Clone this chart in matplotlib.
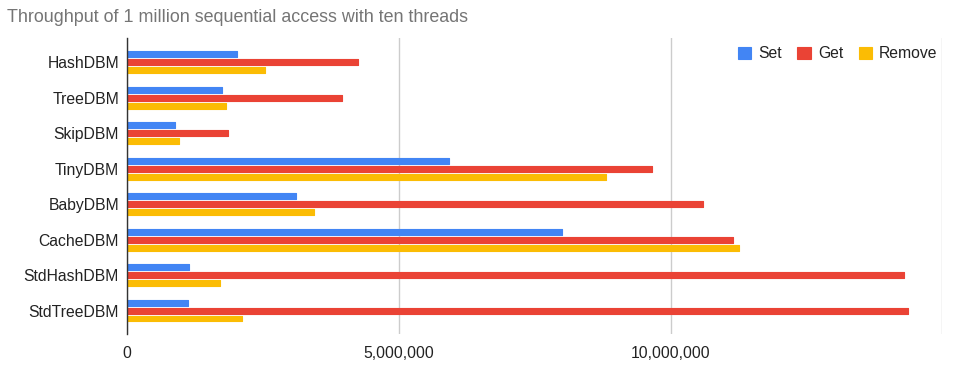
import matplotlib
matplotlib.use("Agg")
import matplotlib.pyplot as plt
import numpy as np

categories = ["HashDBM", "TreeDBM", "SkipDBM", "TinyDBM", "BabyDBM", "CacheDBM", "StdHashDBM", "StdTreeDBM"]
set_vals = [2010000, 1750000, 870000, 5930000, 3100000, 8000000, 1130000, 1110000]
get_vals = [4240000, 3960000, 1850000, 9660000, 10600000, 11150000, 14290000, 14360000]
remove_vals = [2540000, 1810000, 960000, 8810000, 3430000, 11260000, 1700000, 2120000]
series_names = ["Set", "Get", "Remove"]
xticks = [0, 5000000, 10000000, 15000000]
xtick_labels = ["0", "5,000,000", "10,000,000", ""]
title = "Throughput of 1 million sequential access with ten threads"

colors = ["#4285F4", "#EA4335", "#FBBC04"]
plt.rcParams['font.family'] = ['Liberation Sans', 'DejaVu Sans']

fig = plt.figure(figsize=(9.61, 3.71), dpi=100)
ax = fig.add_axes([127.3/961, 1-334/371, (942.3-127.3)/961, (334-38)/371])

y = np.arange(len(categories))
h = 0.165
off = 0.225
for i, (vals, name) in enumerate(zip([set_vals, get_vals, remove_vals], series_names)):
    ax.barh(y + (i-1)*off, vals, height=h, color=colors[i], edgecolor=colors[i],
            linewidth=0.8, joinstyle='round', label=name, zorder=3)

ax.set_xlim(0, 15000000)
ax.set_ylim(7.66, -0.68)
ax.set_yticks(y)
ax.set_yticklabels(categories, fontsize=11.3, color="#222222")
ax.set_xticks(xticks)
ax.set_xticklabels(xtick_labels, fontsize=11.3, color="#222222")
ax.tick_params(axis='both', length=0)
ax.tick_params(axis='x', pad=9)
ax.tick_params(axis='y', pad=6)
ax.grid(axis='x', color="#cccccc", linewidth=1, zorder=0)
for s in ["top", "right", "bottom"]:
    ax.spines[s].set_visible(False)
ax.spines["left"].set_color("#333333")
ax.spines["left"].set_linewidth(1)
ax.spines["left"].set_zorder(4)

fig.text(7/961, 1-18/371, title, fontsize=12.9, color="#757575", va="center", ha="left")

leg = ax.legend(loc="upper right", bbox_to_anchor=(1.002, 0.993), ncol=3, frameon=False,
                fontsize=11.3, handlelength=0.85, handleheight=0.85, handletextpad=0.45,
                columnspacing=1.0, borderaxespad=0.0)
for t in leg.get_texts():
    t.set_color("#222222")

fig.savefig("out.png", dpi=100)
